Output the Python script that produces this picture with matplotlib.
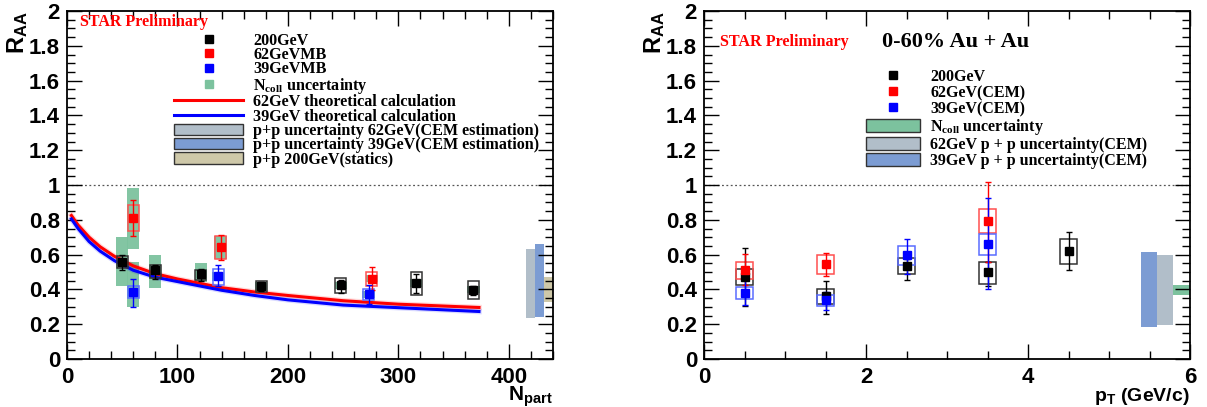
import numpy as np
import matplotlib.pyplot as plt
from matplotlib.lines import Line2D
from matplotlib.ticker import MultipleLocator

plt.rcParams['font.family'] = ['Liberation Sans', 'DejaVu Sans']
plt.rcParams['font.weight'] = 'bold'
plt.rcParams['mathtext.fontset'] = 'custom'
plt.rcParams['mathtext.rm'] = 'Liberation Serif:bold'
plt.rcParams['mathtext.sf'] = 'Liberation Sans:bold'

# ---------------- left panel data (vs Npart) ----------------
npart_200 = [50, 80, 121, 176, 248, 316, 368]
raa_200 = [0.556, 0.51, 0.487, 0.42, 0.425, 0.438, 0.398]
stat_200_dn = [0.046, 0.05, 0.037, 0.03, 0.045, 0.058, 0.028]
stat_200_up = [0.044, 0.03, 0.033, 0.02, 0.03, 0.052, 0.022]
sys_200_lo = [0.523, 0.465, 0.456, 0.383, 0.379, 0.369, 0.344]
sys_200_hi = [0.59, 0.54, 0.513, 0.446, 0.465, 0.498, 0.45]
ncoll_200_lo = [0.42, 0.41, 0.445, 0.39, 0.405, 0.415, 0.38]
ncoll_200_hi = [0.70, 0.60, 0.55, 0.445, 0.445, 0.46, 0.42]

npart_62 = [60, 139, 276]
raa_62 = [0.813, 0.646, 0.462]
stat_62_dn = [0.107, 0.077, 0.064]
stat_62_up = [0.10, 0.067, 0.067]
sys_62_lo = [0.733, 0.577, 0.417]
sys_62_hi = [0.887, 0.706, 0.50]
ncoll_62_lo = [0.635, 0.577, 0.44]
ncoll_62_hi = [0.985, 0.706, 0.48]

npart_39 = [60, 137, 273]
raa_39 = [0.383, 0.479, 0.371]
stat_39_dn = [0.083, 0.062, 0.054]
stat_39_up = [0.077, 0.061, 0.054]
sys_39_lo = [0.348, 0.423, 0.337]
sys_39_hi = [0.417, 0.517, 0.404]
ncoll_39_lo = [0.30, 0.45, 0.35]
ncoll_39_hi = [0.56, 0.50, 0.39]

# theoretical calculation curves
npart_th = [4, 10, 20, 30, 43, 60, 80, 100, 120, 140, 170, 200, 250, 300, 373]
th_62 = [0.825, 0.77, 0.70, 0.645, 0.59, 0.535, 0.49, 0.46, 0.435, 0.41,
         0.385, 0.365, 0.335, 0.315, 0.296]
th_39 = [0.805, 0.75, 0.675, 0.62, 0.565, 0.51, 0.47, 0.445, 0.42, 0.395,
         0.365, 0.34, 0.31, 0.295, 0.273]

# p+p uncertainty bands at right edge (x from, x to, lo, hi)
pp_left_x0 = [416, 424, 432]
pp_left_x1 = [424, 432, 440]
pp_left_lo = [0.234, 0.24, 0.326]
pp_left_hi = [0.63, 0.659, 0.47]

# ---------------- right panel data (vs pT) ----------------
pt_200 = [0.5, 1.5, 2.5, 3.5, 4.5]
rpt_200 = [0.473, 0.36, 0.535, 0.498, 0.621]
spt_200_dn = [0.167, 0.10, 0.083, 0.078, 0.111]
spt_200_up = [0.167, 0.09, 0.042, 0.062, 0.109]
ypt_200_lo = [0.425, 0.317, 0.488, 0.433, 0.548]
ypt_200_hi = [0.519, 0.40, 0.579, 0.558, 0.69]

pt_62 = [0.5, 1.5, 3.5]
rpt_62 = [0.512, 0.546, 0.792]
spt_62_dn = [0.087, 0.069, 0.232]
spt_62_up = [0.09, 0.064, 0.228]
ypt_62_lo = [0.46, 0.49, 0.725]
ypt_62_hi = [0.558, 0.596, 0.86]

pt_39 = [0.5, 1.5, 2.5, 3.5]
rpt_39 = [0.38, 0.34, 0.596, 0.662]
spt_39_dn = [0.07, 0.06, 0.108, 0.262]
spt_39_up = [0.076, 0.043, 0.096, 0.261]
ypt_39_lo = [0.345, 0.306, 0.538, 0.60]
ypt_39_hi = [0.415, 0.365, 0.65, 0.72]

pp_right_x0 = [5.39, 5.59, 5.79]
pp_right_x1 = [5.59, 5.79, 6.0]
pp_right_lo = [0.186, 0.194, 0.37]
pp_right_hi = [0.613, 0.60, 0.425]

c_ncoll = '#7cc29e'
c_pp62 = '#b1bec9'
c_pp39 = '#7c9cd3'
c_pp200 = '#cec8a9'
serif = {'family': 'Liberation Serif', 'weight': 'bold'}


def draw_boxes(ax, x, lo, hi, hw, color, filled=False, alpha=1.0):
    x = np.asarray(x)
    lo = np.asarray(lo)
    hi = np.asarray(hi)
    if filled:
        return ax.bar(x, hi - lo, 2 * hw, bottom=lo, color=color, alpha=alpha,
                      lw=0, zorder=1)
    return ax.bar(x, hi - lo, 2 * hw, bottom=lo, fill=False, edgecolor=color,
                  lw=1.1, alpha=alpha, zorder=3)


def draw_points(ax, x, y, dn, up, color):
    ax.errorbar(x, y, yerr=[dn, up], fmt='none', ecolor=color, elinewidth=1,
                capsize=2, capthick=1, zorder=4)
    h, = ax.plot(x, y, ls='none', marker='s', ms=6, color=color, zorder=5)
    return h


def style_axes(ax, xmax, xmajor, xminor):
    ax.set_xlim(0, xmax)
    ax.set_ylim(0, 2)
    ax.xaxis.set_major_locator(MultipleLocator(xmajor))
    ax.xaxis.set_minor_locator(MultipleLocator(xminor))
    ax.yaxis.set_major_locator(MultipleLocator(0.2))
    ax.yaxis.set_minor_locator(MultipleLocator(0.05))
    ax.yaxis.set_major_formatter(plt.FuncFormatter(lambda v, p: f'{v:g}'))
    ax.tick_params(which='both', direction='in', top=True, right=True,
                   labelsize=16, width=1)
    ax.tick_params(which='major', length=11)
    ax.tick_params(which='minor', length=5.5)
    ax.tick_params(axis='x', pad=6)
    ax.tick_params(axis='y', pad=5)
    for s in ax.spines.values():
        s.set_linewidth(1.3)
    ax.axhline(1, color='#555555', lw=0.9, ls=(0, (1.5, 2)), zorder=0)
    ax.text(-0.102, 1.0, r'$\mathsf{R_{AA}}$', transform=ax.transAxes,
            rotation=90, ha='center', va='top', fontsize=17)


fig = plt.figure(figsize=(12.07, 4.07), dpi=100)
ax1 = fig.add_axes([67 / 1207, 48 / 407, 486 / 1207, 348 / 407])
ax2 = fig.add_axes([704 / 1207, 48 / 407, 486 / 1207, 348 / 407])

# ---------- left ----------
style_axes(ax1, 440, 100, 20)
draw_boxes(ax1, npart_200, ncoll_200_lo, ncoll_200_hi, 5.5, c_ncoll, filled=True, alpha=0.95)
draw_boxes(ax1, npart_62, ncoll_62_lo, ncoll_62_hi, 5.5, c_ncoll, filled=True, alpha=0.95)
draw_boxes(ax1, npart_39, ncoll_39_lo, ncoll_39_hi, 5.5, c_ncoll, filled=True, alpha=0.95)
draw_boxes(ax1, npart_200, sys_200_lo, sys_200_hi, 5, '#333333')
draw_boxes(ax1, npart_62, sys_62_lo, sys_62_hi, 5, '#ff5050')
draw_boxes(ax1, npart_39, sys_39_lo, sys_39_hi, 5, '#5a6cff')

ax1.plot(npart_th, th_62, color='#ff0000', lw=4, alpha=0.15, zorder=2)
ax1.plot(npart_th, th_39, color='#0000ff', lw=4, alpha=0.15, zorder=2)
l62, = ax1.plot(npart_th, th_62, color='#ff0000', lw=2.2, zorder=2)
l39, = ax1.plot(npart_th, th_39, color='#0000ff', lw=2.2, zorder=2)

h200 = draw_points(ax1, npart_200, raa_200, stat_200_dn, stat_200_up, 'black')
h62 = draw_points(ax1, npart_62, raa_62, stat_62_dn, stat_62_up, '#ff0000')
h39 = draw_points(ax1, npart_39, raa_39, stat_39_dn, stat_39_up, '#0000ff')

x0 = np.array(pp_left_x0)
x1 = np.array(pp_left_x1)
pp_cols = [c_pp62, c_pp39, c_pp200]
ax1.bar(x0, np.array(pp_left_hi) - np.array(pp_left_lo), x1 - x0,
        bottom=pp_left_lo, align='edge', color=pp_cols, lw=0, zorder=1)

ncoll_proxy = Line2D([], [], ls='none', marker='s', ms=6, color=c_ncoll)
leg_boxes = [plt.Rectangle((0, 0), 1, 1, facecolor=c, edgecolor='#333333', lw=1)
             for c in pp_cols]
ax1.legend([h200, h62, h39, ncoll_proxy, l62, l39] + leg_boxes,
           ['200GeV', '62GeVMB', '39GeVMB', r'N$_{\rm coll}$ uncertainty',
            '62GeV theoretical calculation', '39GeV theoretical calculation',
            'p+p uncertainty 62GeV(CEM estimation)',
            'p+p uncertainty 39GeV(CEM estimation)', 'p+p 200GeV(statics)'],
           loc='upper left', bbox_to_anchor=(0.22, 0.938), frameon=False,
           prop=dict(serif, size=11.6), handlelength=4.3, handletextpad=0.62,
           labelspacing=-0.1, borderpad=0, borderaxespad=0, handleheight=0.7)

ax1.text(0.027, 0.968, 'STAR Preliminary', transform=ax1.transAxes, color='red',
         ha='left', va='center', fontdict=dict(serif, size=11.5))
ax1.text(1.0, -0.072, r'$\mathsf{N_{part}}$', transform=ax1.transAxes,
         ha='right', va='top', fontsize=15)

# ---------- right ----------
style_axes(ax2, 6, 2, 0.5)
draw_boxes(ax2, pt_200, ypt_200_lo, ypt_200_hi, 0.1, '#333333')
draw_boxes(ax2, pt_62, ypt_62_lo, ypt_62_hi, 0.1, '#ff5050')
draw_boxes(ax2, pt_39, ypt_39_lo, ypt_39_hi, 0.1, '#5a6cff')
k200 = draw_points(ax2, pt_200, rpt_200, spt_200_dn, spt_200_up, 'black')
k62 = draw_points(ax2, pt_62, rpt_62, spt_62_dn, spt_62_up, '#ff0000')
k39 = draw_points(ax2, pt_39, rpt_39, spt_39_dn, spt_39_up, '#0000ff')

x0 = np.array(pp_right_x0)
x1 = np.array(pp_right_x1)
ax2.bar(x0, np.array(pp_right_hi) - np.array(pp_right_lo), x1 - x0,
        bottom=pp_right_lo, align='edge', color=[c_pp39, c_pp62, c_ncoll],
        lw=0, zorder=1)

leg2_boxes = [plt.Rectangle((0, 0), 1, 1, facecolor=c, edgecolor='#333333', lw=1)
              for c in [c_ncoll, c_pp62, c_pp39]]
ax2.legend([k200, k62, k39] + leg2_boxes,
           ['200GeV', '62GeV(CEM)', '39GeV(CEM)', r'N$_{\rm coll}$ uncertainty',
            '62GeV p + p uncertainty(CEM)', '39GeV p + p uncertainty(CEM)'],
           loc='upper left', bbox_to_anchor=(0.333, 0.833), frameon=False,
           prop=dict(serif, size=11.5), handlelength=3.4, handletextpad=0.63,
           labelspacing=0.0, borderpad=0, borderaxespad=0, handleheight=0.8)

ax2.text(0.033, 0.911, 'STAR Preliminary', transform=ax2.transAxes, color='red',
         ha='left', va='center', fontdict=dict(serif, size=11.6))
ax2.text(0.366, 0.911, '0-60% Au + Au', transform=ax2.transAxes, color='black',
         ha='left', va='center', fontdict=dict(serif, size=16))
ax2.text(1.0, -0.078, r'$\mathsf{p_{T}}$ (GeV/c)', transform=ax2.transAxes,
         ha='right', va='top', fontsize=14)

fig.savefig('out.png', dpi=100)
